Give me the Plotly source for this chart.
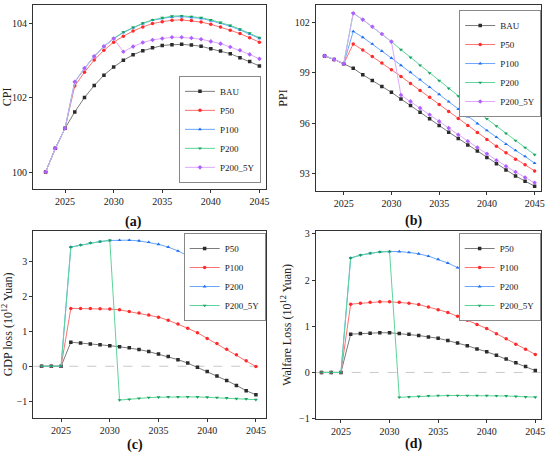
import plotly.graph_objects as go

years = list(range(2023, 2046))

# (a) CPI
cpi_bau = [100, 100.64, 101.18, 101.62, 102.01, 102.33, 102.61, 102.83, 103.01, 103.16, 103.27, 103.35,
           103.41, 103.43, 103.44, 103.42, 103.39, 103.32, 103.26, 103.19, 103.08, 102.98, 102.86]
cpi_p50 = [100, 100.64, 101.18, 102.32, 102.69, 103.02, 103.28, 103.50, 103.66, 103.80, 103.91, 104.00,
           104.05, 104.09, 104.10, 104.08, 104.04, 103.98, 103.91, 103.82, 103.73, 103.62, 103.50]
cpi_p100 = [100, 100.64, 101.18, 102.42, 102.79, 103.11, 103.38, 103.59, 103.76, 103.89, 104.00, 104.09,
            104.14, 104.18, 104.19, 104.17, 104.14, 104.08, 104.01, 103.93, 103.83, 103.72, 103.60]
cpi_p200 = [100, 100.64, 101.18, 102.43, 102.80, 103.12, 103.39, 103.60, 103.77, 103.90, 104.01, 104.10,
            104.16, 104.20, 104.21, 104.19, 104.16, 104.10, 104.03, 103.95, 103.85, 103.74, 103.62]
cpi_p200_5y = [100, 100.64, 101.18, 102.43, 102.80, 103.12, 103.39, 103.60, 103.24, 103.38, 103.49, 103.56,
               103.60, 103.63, 103.63, 103.61, 103.58, 103.52, 103.46, 103.37, 103.28, 103.17, 103.05]

# (b) PPI
ppi_bau = [100, 99.79, 99.53, 99.26, 98.88, 98.54, 98.18, 97.83, 97.43, 97.05, 96.65, 96.25,
           95.86, 95.46, 95.08, 94.70, 94.33, 93.95, 93.57, 93.21, 92.85, 92.54, 92.24]
ppi_p50 = [100, 99.79, 99.53, 100.71, 100.35, 99.97, 99.57, 99.18, 98.78, 98.36, 97.94, 97.53,
           97.11, 96.69, 96.27, 95.86, 95.44, 95.02, 94.62, 94.23, 93.85, 93.51, 93.15]
ppi_p100 = [100, 99.79, 99.53, 101.46, 101.11, 100.71, 100.29, 99.87, 99.44, 99.02, 98.58, 98.14,
            97.71, 97.27, 96.83, 96.39, 95.97, 95.56, 95.16, 94.74, 94.37, 94.01, 93.61]
ppi_p200 = [100, 99.79, 99.53, 102.54, 102.16, 101.74, 101.30, 100.85, 100.37, 99.91, 99.44, 98.98,
            98.52, 98.06, 97.61, 97.15, 96.71, 96.25, 95.82, 95.38, 94.96, 94.54, 94.12]
ppi_p200_5y = [100, 99.79, 99.53, 102.54, 102.16, 101.74, 101.30, 100.85, 97.67, 97.29, 96.89, 96.49,
               96.10, 95.70, 95.30, 94.92, 94.54, 94.17, 93.79, 93.43, 93.09, 92.76, 92.44]

# (c) GDP loss
gdp_p50 = [0, 0, 0, 0.69, 0.67, 0.64, 0.62, 0.59, 0.56, 0.53, 0.48, 0.42,
           0.35, 0.28, 0.19, 0.09, -0.03, -0.15, -0.28, -0.41, -0.55, -0.70, -0.82]
gdp_p100 = [0, 0, 0, 1.66, 1.66, 1.66, 1.65, 1.64, 1.62, 1.57, 1.53, 1.47,
            1.41, 1.32, 1.21, 1.09, 0.96, 0.80, 0.65, 0.49, 0.33, 0.16, -0.01]
gdp_p200 = [0, 0, 0, 3.42, 3.48, 3.54, 3.58, 3.61, 3.62, 3.62, 3.60, 3.56,
            3.50, 3.42, 3.31, 3.17, 3.01, 2.84, 2.65, 2.46, 2.24, 2.04, 1.83]
gdp_p200_5y = [0, 0, 0, 3.42, 3.48, 3.54, 3.58, 3.61, -0.97, -0.95, -0.92, -0.90,
               -0.89, -0.88, -0.88, -0.88, -0.88, -0.89, -0.90, -0.91, -0.93, -0.94, -0.96]

# (d) Welfare loss
wel_p50 = [0, 0, 0, 0.83, 0.845, 0.85, 0.86, 0.86, 0.845, 0.83, 0.80, 0.77,
           0.74, 0.69, 0.64, 0.58, 0.51, 0.45, 0.37, 0.29, 0.21, 0.13, 0.04]
wel_p100 = [0, 0, 0, 1.48, 1.50, 1.52, 1.53, 1.53, 1.52, 1.50, 1.47, 1.42,
            1.36, 1.30, 1.22, 1.13, 1.04, 0.95, 0.84, 0.73, 0.61, 0.50, 0.39]
wel_p200 = [0, 0, 0, 2.48, 2.54, 2.58, 2.61, 2.62, 2.62, 2.60, 2.57, 2.52,
            2.45, 2.37, 2.27, 2.17, 2.04, 1.91, 1.78, 1.63, 1.48, 1.33, 1.19]
wel_p200_5y = [0, 0, 0, 2.48, 2.54, 2.58, 2.61, 2.62, -0.54, -0.53, -0.52, -0.505,
               -0.50, -0.50, -0.50, -0.50, -0.50, -0.50, -0.505, -0.51, -0.52, -0.53, -0.535]

FONT = "Liberation Serif"

# (marker color, line color)
BLACK = ("#2b2b2b", "#7a7a7a")
RED = ("#ff2a2a", "#ff7070")
BLUE = ("#1f6ff0", "#6aa6ff")
GREEN = ("#17a35e", "#5cd49a")
PURPLE = ("#b060ff", "#dca8ff")
SYMBOLS = ["square", "circle", "triangle-up", "triangle-down", "diamond"]

fig = go.Figure()


def add_series(names, series, colors, n, legend):
    for i, (name, ys, col) in enumerate(zip(names, series, colors)):
        fig.add_trace(go.Scatter(
            x=years, y=ys, name=name, mode="lines+markers",
            xaxis="x" + ("" if n == 1 else str(n)),
            yaxis="y" + ("" if n == 1 else str(n)),
            legend=legend,
            line=dict(color=col[1], width=1),
            marker=dict(color=col[0], symbol=SYMBOLS[i], size=3.5, line=dict(width=0)),
        ))


add_series(["BAU", "P50", "P100", "P200", "P200_5Y"],
           [cpi_bau, cpi_p50, cpi_p100, cpi_p200, cpi_p200_5y],
           [BLACK, RED, BLUE, GREEN, PURPLE], 1, "legend")
add_series(["BAU", "P50", "P100", "P200", "P200_5Y"],
           [ppi_bau, ppi_p50, ppi_p100, ppi_p200, ppi_p200_5y],
           [BLACK, RED, BLUE, GREEN, PURPLE], 2, "legend2")
add_series(["P50", "P100", "P200", "P200_5Y"],
           [gdp_p50, gdp_p100, gdp_p200, gdp_p200_5y],
           [BLACK, RED, BLUE, GREEN], 3, "legend3")
add_series(["P50", "P100", "P200", "P200_5Y"],
           [wel_p50, wel_p100, wel_p200, wel_p200_5y],
           [BLACK, RED, BLUE, GREEN], 4, "legend4")

axis_style = dict(showline=True, mirror=True, linecolor="#333333", linewidth=1,
                  ticks="outside", ticklen=3, tickcolor="#333333", showgrid=False,
                  zeroline=False, automargin=False,
                  tickfont=dict(family=FONT, size=10, color="#222"))


def xax(domain, rng, anchor):
    return dict(axis_style, domain=domain, range=rng, anchor=anchor,
                tick0=2025, dtick=5)


def yax(domain, rng, anchor, dtick, title):
    return dict(axis_style, domain=domain, range=rng, anchor=anchor, dtick=dtick,
                title=dict(text=title, font=dict(family=FONT, size=12, color="#222"), standoff=4))


legend_style = dict(bgcolor="white", bordercolor="#888888", borderwidth=1,
                    font=dict(family=FONT, size=9, color="#222"), tracegroupgap=0,
                    itemwidth=30)

fig.update_layout(
    width=550, height=456,
    margin=dict(l=0, r=0, t=0, b=0),
    paper_bgcolor="white", plot_bgcolor="white",
    font=dict(family=FONT),
    xaxis=xax([0.06, 0.484], [2021.7, 2045.7], "y"),
    yaxis=yax([0.586, 0.989], [99.55, 104.5], "x", 2, "CPI"),
    xaxis2=xax([0.574, 0.983], [2022.07, 2045.63], "y2"),
    yaxis2=yax([0.581, 0.989], [91.95, 103.03], "x2", 3, "PPI"),
    xaxis3=xax([0.0606, 0.483], [2022.15, 2046.0], "y3"),
    yaxis3=yax([0.083, 0.494], [-1.49, 3.89], "x3", 1, "GDP loss (10<sup>12</sup> Yuan)"),
    xaxis4=xax([0.574, 0.983], [2022.4, 2045.55], "y4"),
    yaxis4=yax([0.081, 0.494], [-1.01, 3.07], "x4", 1, "Walfare Loss (10<sup>12</sup> Yuan)"),
    legend=dict(legend_style, x=0.4745, y=0.599, xanchor="right", yanchor="bottom"),
    legend2=dict(legend_style, x=0.984, y=0.978, xanchor="right", yanchor="top"),
    legend3=dict(legend_style, x=0.483, y=0.489, xanchor="right", yanchor="top"),
    legend4=dict(legend_style, x=0.983, y=0.489, xanchor="right", yanchor="top"),
    showlegend=True,
)

# dashed zero reference lines in (c) and (d)
for n in (3, 4):
    fig.add_shape(type="line", xref=f"x{n} domain", yref=f"y{n}", x0=0, x1=1, y0=0, y1=0,
                  line=dict(color="#c8c8c8", width=1, dash="dash"), layer="below")

for text, x, y in [("(a)", 0.242, 0.513), ("(b)", 0.751, 0.515),
                   ("(c)", 0.245, 0.024), ("(d)", 0.751, 0.027)]:
    fig.add_annotation(text=f"<b>{text}</b>", x=x, y=y, xref="paper", yref="paper",
                       xanchor="center", yanchor="middle",
                       showarrow=False, font=dict(family=FONT, size=14, color="#111"))

# the page body has a default 8px margin; drop it so the figure fills the window
fig.write_html("out.html", config=dict(displayModeBar=False),
               post_script="document.body.style.margin = '0';")
